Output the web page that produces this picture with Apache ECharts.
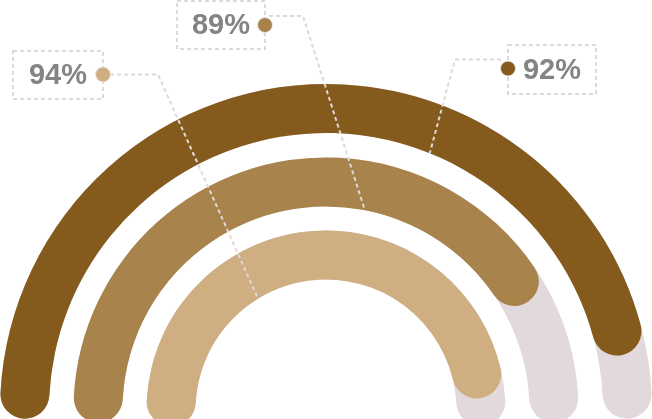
<!DOCTYPE html>
<html><head><meta charset="utf-8">
<script src="https://cdn.jsdelivr.net/npm/echarts@6/dist/echarts.min.js"></script>
<style>html,body{margin:0;padding:0;background:#fff}#c{width:652px;height:419px}</style>
</head><body><div id="c"></div>
<script>
// rings from outside to inside
const ringNames = ['outer', 'middle', 'inner'];
const labelValues = [92, 89, 94];      // printed percentages
const arcValues = [93, 82, 94];        // arc length as drawn (percent of track)
const ringColors = ['#855b1d', '#a8834c', '#cfae81'];
const trackColor = '#e1d9db';
const lineColor = '#e0d7da';
const textColor = '#848484';

// layout
const CX = 326, CY = 410, W = 49;
const radii = [326, 252.5, 179.5];
const boxes = [
  {x: 508, y: 45, w: 88, h: 49, dot: [508, 68.5], start: [501, 59.5], bend: [455, 59.5], angle: 68},
  {x: 177, y: 1,  w: 88, h: 48, dot: [265, 25],   start: [269, 16],   bend: [303, 16],   angle: 79},
  {x: 13,  y: 51, w: 90, h: 48, dot: [103, 74.5], start: [103, 74.5], bend: [158, 74.5], angle: 121.4}
];

const series = ringNames.map((n, i) => ({
  type: 'gauge',
  name: n,
  center: [CX, CY],
  radius: radii[i],
  startAngle: 177,
  endAngle: 3,
  min: 0, max: 100,
  silent: true,
  progress: {show: true, width: W, roundCap: true, itemStyle: {color: ringColors[i]}},
  axisLine: {roundCap: true, lineStyle: {width: W, color: [[1, trackColor]]}},
  pointer: {show: false}, anchor: {show: false},
  axisTick: {show: false}, splitLine: {show: false}, axisLabel: {show: false},
  title: {show: false}, detail: {show: false},
  data: [{value: arcValues[i], name: n}]
}));

const graphic = [];
boxes.forEach((b, i) => {
  const r0 = radii[i] - W;
  const a = b.angle * Math.PI / 180;
  const end = [CX + r0 * Math.cos(a), CY - r0 * Math.sin(a)];
  graphic.push({
    type: 'polyline', z: 100,
    shape: {points: [b.start, b.bend, end]},
    style: {stroke: lineColor, lineWidth: 2, lineDash: [4, 3], fill: null}
  });
  graphic.push({
    type: 'rect', z: 100,
    shape: {x: b.x, y: b.y, width: b.w, height: b.h},
    style: {fill: null, stroke: lineColor, lineWidth: 2, lineDash: [4, 3]}
  });
  graphic.push({
    type: 'text', z: 101,
    style: {
      text: labelValues[i] + '%', x: b.x + b.w / 2, y: b.y + b.h / 2 + 1,
      align: 'center', verticalAlign: 'middle',
      font: 'bold 29px "Liberation Sans", Arial, sans-serif', fill: textColor
    }
  });
  graphic.push({
    type: 'circle', z: 102,
    shape: {cx: b.dot[0], cy: b.dot[1], r: 7.5},
    style: {fill: ringColors[i], stroke: '#ece6e7', lineWidth: 1}
  });
});

const chart = echarts.init(document.getElementById('c'), null, {renderer: 'canvas'});
chart.setOption({animation: false, series: series, graphic: graphic});
</script></body></html>
